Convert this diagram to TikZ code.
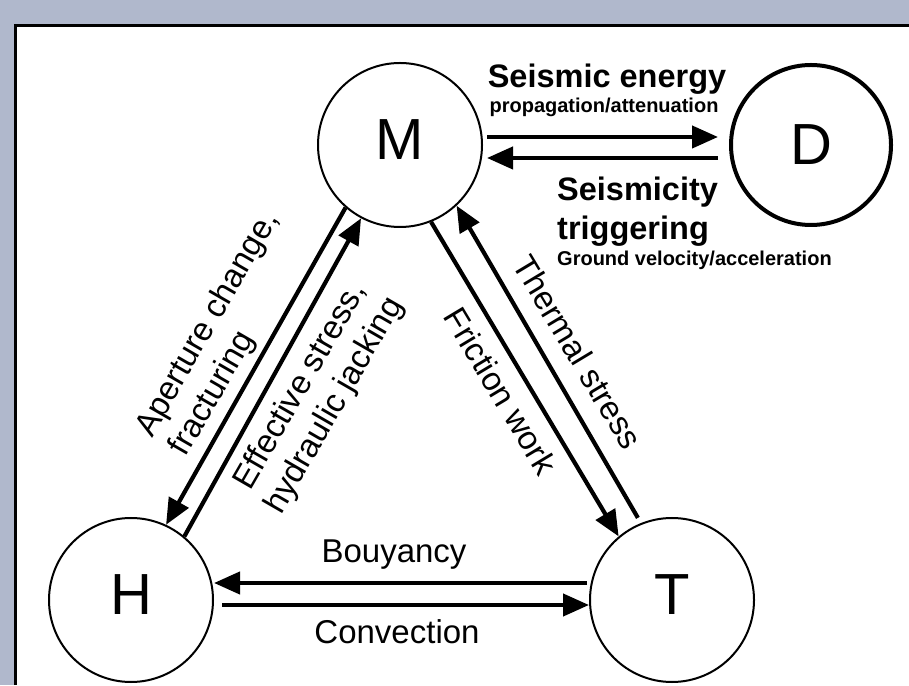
\documentclass[tikz,border=0pt]{standalone}
\usepackage{fontspec}
\setmainfont{Liberation Sans}
\usetikzlibrary{arrows.meta}
\definecolor{framegray}{RGB}{176,184,204}
\tikzset{
  field/.style={circle, draw=black, line width=2pt, minimum size=164pt, inner sep=0pt,
    font=\fontsize{58}{60}\selectfont, text depth=11pt},
  flow/.style={line width=4.2pt, -{Triangle[length=26pt,width=22pt]}},
  lbl/.style={font=\fontsize{33}{39}\selectfont, inner sep=0pt},
  blbl/.style={font=\bfseries\fontsize{32.5}{36}\selectfont, inner sep=0pt},
  slbl/.style={font=\bfseries\fontsize{20}{24}\selectfont, inner sep=0pt}
}
\begin{document}
\begin{tikzpicture}[x=1pt,y=1pt]
\useasboundingbox (0,0) rectangle (909,685);
% frame
\fill[framegray] (0,0) rectangle (909,685);
\fill[white] (15.5,0) rectangle (909,659);
\draw[line width=3pt] (15.5,0) |- (909,659);
% fields
\node[field] (M) at (400,540) {M};
\node[field, line width=4pt, minimum size=160pt, text depth=0pt] (D) at (811,540) {D};
\node[field] (H) at (131,85) {H};
\node[field] (T) at (672,85) {T};
% couplings
\draw[flow, shorten <=4pt, shorten >=11pt] ([yshift=8pt]M.east) -- ([yshift=8pt]D.west);
\draw[flow, shorten <=11pt, shorten >=4pt] ([yshift=-13pt]D.west) -- ([yshift=-13pt]M.east);
\draw[flow, shorten <=2pt] ([yshift=17pt]T.west) -- ([yshift=17pt]H.east);
\draw[flow, shorten <=8pt] ([yshift=-5pt]H.east) -- ([yshift=-5pt]T.west);
\draw[flow] (M.229) -- (H.65);
\draw[flow] (H.50) -- (M.242);
\draw[flow] (M.292) -- (T.130);
\draw[flow, shorten <=6pt] (T.112) -- (M.313);
% labels
\node[blbl, anchor=base] (senergy) at (607,597) {Seismic energy};
\node[slbl, anchor=base] (sprop) at (604,572) {propagation/attenuation};
\node[blbl, anchor=base west] (strig) at (557,484) {Seismicity};
\node[blbl, anchor=base west] (strig2) at (557,445) {triggering};
\node[slbl, anchor=base west] (sground) at (557,419) {Ground velocity/acceleration};
\node[lbl, anchor=base] (buoy) at (394,123) {Bouyancy};
\node[lbl, anchor=base] (conv) at (397,42) {Convection};
\node[lbl, rotate=60, align=left] (aper) at (225,351) {Aperture change,\\fracturing};
\node[lbl, rotate=60, align=center] (effs) at (318,289) {Effective stress,\\hydraulic jacking};
\node[lbl, rotate=-59] (fric) at (501,294) {Friction work};
\node[lbl, rotate=-59] (therm) at (578,333) {Thermal stress};
\end{tikzpicture}
\end{document}
